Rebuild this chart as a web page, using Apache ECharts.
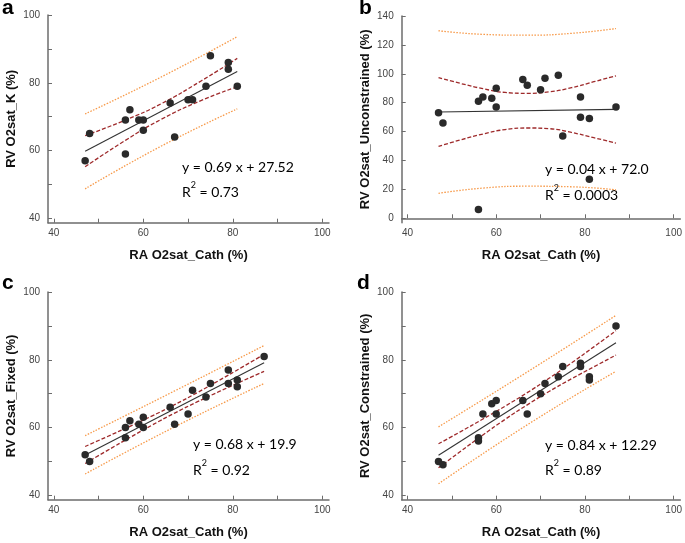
<!DOCTYPE html>
<html><head><meta charset="utf-8">
<script src="https://cdn.jsdelivr.net/npm/echarts@6/dist/echarts.min.js"></script>
<style>html,body{margin:0;padding:0;background:#fff}#c{width:685px;height:543px}</style>
</head><body><div id="c"></div>
<script>
// ---- data ----
const raA = [47,48,56,56,57,59,60,60,66,67,70,71,74,75,79,79,81];
const rvK = [57,65,69,59,72,69,69,66,74,64,75,75,79,88,86,84,79];
const raB = [47,48,56,56,57,59,60,60,66,67,70,71,74,75,79,79,81,81,87];
const rvUnconstrained = [73,66,81,6,84,83,90,77,96,92,89,97,99,57,84,70,69,27,77];
const raC = [47,48,56,56,57,59,60,60,66,67,70,71,74,75,79,79,81,81,87];
const rvFixed = [52,50,60,57,62,61,63,60,66,61,64,71,69,73,77,73,74,72,81];
const raD = [47,48,56,56,57,59,60,60,66,67,70,71,74,75,79,79,81,81,87];
const rvConstrained = [50,49,57,56,64,67,68,64,68,64,70,73,75,78,79,78,75,74,90];

// regression lines and bands
const fitXA = [47,81], fitYA = [59.8,83.3];
const confXA = [47,56,64,73,81];
const confUpA = [64.4,69.0,73.8,80.6,87.2];
const confLoA = [55.2,63.0,69.2,74.8,78.8];
const predXA = [47,64,81];
const predUpA = [70.8,81.7,93.6];
const predLoA = [48.7,61.3,72.3];

const fitXB = [47,87], fitYB = [73.6,75.4];
const confXB = [47,52,57,62,67,72,77,82,87];
const confUpB = [97.4,93.3,89.7,87.1,86.5,87.5,90.4,94.5,98.6];
const confLoB = [49.8,54.3,58.3,61.4,62.5,62.0,59.4,55.8,52.0];
const predXB = [47,57,67,77,87];
const predUpB = [129.8,127.3,126.7,128.0,131.3];
const predLoB = [17.3,20.9,22.2,21.8,19.7];

const fitXC = [47,87], fitYC = [51.9,79.1];
const confXC = [47,52,57,62,67,72,77,82,87];
const confUpC = [54.4,57.35,60.35,63.45,66.74,70.25,73.95,77.75,81.6];
const confLoC = [49.4,53.25,57.05,60.75,64.26,67.55,70.65,73.65,76.6];
const predXC = [47,67,87];
const predUpC = [57.6,70.8,84.2];
const predLoC = [46.3,60.2,73.0];

const fitXD = [47,87], fitYD = [51.8,85.0];
const confXD = [47,52,57,62,67,72,77,82,87];
const confUpD = [55.2,58.8,62.5,66.3,70.3,74.6,79.1,83.8,88.6];
const confLoD = [48.1,53.0,57.8,62.4,66.7,70.7,74.4,77.9,81.4];
const predXD = [47,67,87];
const predUpD = [60.2,76.4,93.1];
const predLoD = [43.4,60.8,76.6];

// ticks
const ticks40to100 = [40,50,60,70,80,90,100];
const labels40to100 = [40,60,80,100];
const ticks0to140 = [0,20,40,60,80,100,120,140];
const labels0to140 = [0,20,40,60,80,100,120,140];

const panelLetters = ['a','b','c','d'];
const xTitle = 'RA O2sat_Cath (%)';
const yTitles = ['RV O2sat_K (%)','RV O2sat_Unconstrained (%)','RV O2sat_Fixed (%)','RV O2sat_Constrained (%)'];
const eqLines = ['y = 0.69 x + 27.52','y = 0.04 x + 72.0','y = 0.68 x + 19.9','y = 0.84 x + 12.29'];
const r2Values = ['0.73','0.0003','0.92','0.89'];

// ---- build ----
const zip = (a,b) => a.map((v,i)=>[v,b[i]]);
const panels = [
  {ra:raA, rv:rvK, fx:fitXA, fy:fitYA, cx:confXA, cu:confUpA, cl:confLoA, px:predXA, pu:predUpA, pl:predLoA, ymin:38.7, ymax:100, yt:ticks40to100, yl:labels40to100},
  {ra:raB, rv:rvUnconstrained, fx:fitXB, fy:fitYB, cx:confXB, cu:confUpB, cl:confLoB, px:predXB, pu:predUpB, pl:predLoB, ymin:-3.05, ymax:140, yt:ticks0to140, yl:labels0to140},
  {ra:raC, rv:rvFixed, fx:fitXC, fy:fitYC, cx:confXC, cu:confUpC, cl:confLoC, px:predXC, pu:predUpC, pl:predLoC, ymin:38.7, ymax:100, yt:ticks40to100, yl:labels40to100},
  {ra:raD, rv:rvConstrained, fx:fitXD, fy:fitYD, cx:confXD, cu:confUpD, cl:confLoD, px:predXD, pu:predUpD, pl:predLoD, ymin:38.7, ymax:100, yt:ticks40to100, yl:labels40to100}
];
const grids = [
  {left:48, top:15, width:281, height:207.7},
  {left:401.7, top:16, width:280, height:206.7},
  {left:48, top:292, width:281, height:207.7},
  {left:401.7, top:292, width:280, height:207.7}
];
const axisLineStyle = {color:'#6c6c6c', width:1.5};
const titleStyle = {fontFamily:'Liberation Sans', fontWeight:'bold', fontSize:13, color:'#111'};
const xAxes = [], yAxes = [], series = [], graphic = [];

panels.forEach((p,i)=>{
  xAxes.push({
    gridIndex:i, type:'value', min:38.7, max:101.5,
    name:xTitle, nameLocation:'middle', nameGap:26, nameTextStyle:titleStyle,
    axisLine:{show:true, lineStyle:axisLineStyle},
    axisTick:{show:true, inside:true, length:4, customValues:ticks40to100, lineStyle:{color:'#6c6c6c'}},
    axisLabel:{customValues:labels40to100, margin:6, fontSize:10, color:'#444', fontFamily:'Liberation Sans'},
    splitLine:{show:false}
  });
  yAxes.push({
    gridIndex:i, type:'value', min:p.ymin, max:p.ymax,
    name:yTitles[i], nameLocation:'middle', nameGap:30, nameTextStyle:titleStyle,
    axisLine:{show:true, lineStyle:axisLineStyle},
    axisTick:{show:true, inside:true, length:4, customValues:p.yt, lineStyle:{color:'#6c6c6c'}},
    axisLabel:{customValues:p.yl, margin:8, fontSize:10, color:'#444', fontFamily:'Liberation Sans'},
    splitLine:{show:false}
  });
  const base = {xAxisIndex:i, yAxisIndex:i, type:'line', showSymbol:false, symbol:'none', silent:true};
  series.push(Object.assign({}, base, {data:zip(p.px,p.pu), smooth:true, lineStyle:{color:'#f79a4a', width:1.3, type:[1.5,1.5]}}));
  series.push(Object.assign({}, base, {data:zip(p.px,p.pl), smooth:true, lineStyle:{color:'#f79a4a', width:1.3, type:[1.5,1.5]}}));
  series.push(Object.assign({}, base, {data:zip(p.cx,p.cu), smooth:true, lineStyle:{color:'#9e2a2b', width:1.3, type:[4,2]}}));
  series.push(Object.assign({}, base, {data:zip(p.cx,p.cl), smooth:true, lineStyle:{color:'#9e2a2b', width:1.3, type:[4,2]}}));
  series.push(Object.assign({}, base, {data:zip(p.fx,p.fy), lineStyle:{color:'#333', width:1.1}}));
  series.push({xAxisIndex:i, yAxisIndex:i, type:'scatter', symbolSize:7.5, data:zip(p.ra,p.rv), itemStyle:{color:'#2a2a2a', opacity:1}, z:5});
});

const letterPos = [[2,-2],[359,-2],[2,273],[357,273]];
const eqPos = [[182,160],[545,162],[193,437],[545,438]];
const r2Pos = [[182,181],[545,184],[193,459],[545,459]];
panelLetters.forEach((L,i)=>{
  graphic.push({type:'text', left:letterPos[i][0], top:letterPos[i][1], style:{text:L, font:'bold 21px "Liberation Sans"', fill:'#000'}});
  graphic.push({type:'text', left:eqPos[i][0], top:eqPos[i][1], style:{text:eqLines[i], font:'14px Lato', fill:'#000'}});
  graphic.push({type:'text', left:r2Pos[i][0], top:r2Pos[i][1], style:{
    text:'{n|R}{s|2}{n| = '+r2Values[i]+'}',
    rich:{n:{fontFamily:'Lato', fontSize:14, lineHeight:18, verticalAlign:'bottom', color:'#000'},
          s:{fontFamily:'Lato', fontSize:9, lineHeight:18, verticalAlign:'top', color:'#000', padding:[0,0,8,0]}}
  }});
});

const chart = echarts.init(document.getElementById('c'), null, {renderer:'canvas'});
chart.setOption({animation:false, grid:grids, xAxis:xAxes, yAxis:yAxes, series:series, graphic:graphic});
</script></body></html>
